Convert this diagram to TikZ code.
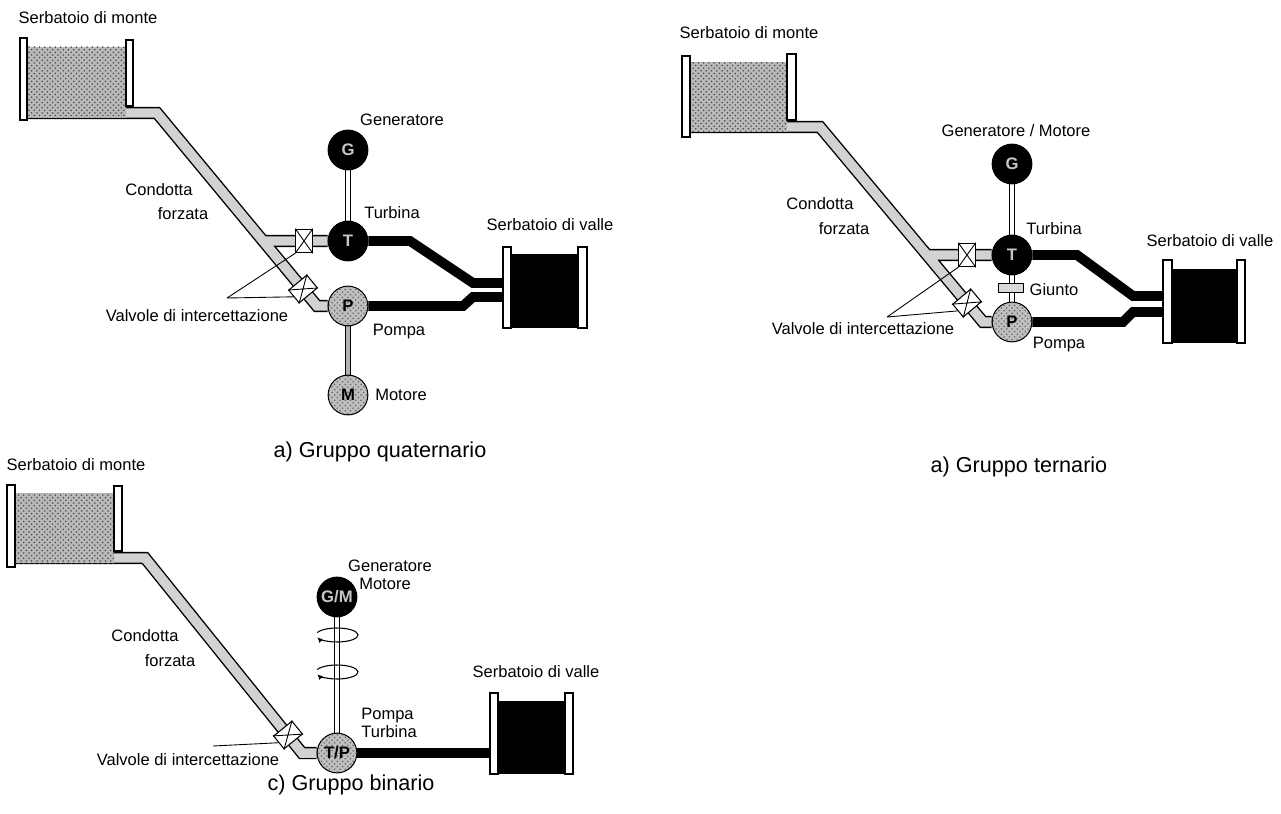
\documentclass[tikz,border=0pt]{standalone}
\usepackage{fontspec}
\setmainfont{Liberation Sans}
\usetikzlibrary{arrows.meta, patterns, backgrounds}

\begin{document}
\begin{tikzpicture}[
    x=0.02cm, y=-0.02cm,
    lbl/.style={font=\fontsize{9.4}{11}\selectfont, inner sep=0pt},
    caption/.style={font=\fontsize{12.3}{14}\selectfont, inner sep=0pt},
    pipe/.style={draw=gray!35, line width=5.4pt,
                 preaction={draw=black, line width=7pt}},
    tail/.style={draw=black, line width=5.6pt},
    shaft/.style={draw=white, line width=2pt,
                  preaction={draw=black, line width=3.4pt}},
    darkshaft/.style={draw=gray!60, line width=2.4pt,
                      preaction={draw=black, line width=3.8pt}},
    wall/.style={draw=black, fill=white, line width=0.6pt},
    upper/.style={fill=gray!55, postaction={pattern=crosshatch dots, pattern color=black!70}},
    lower/.style={fill=black},
    machine/.style={circle, draw=black, line width=0.6pt, minimum size=22.6pt,
                    inner sep=0pt, font=\bfseries\fontsize{9.5}{10}\selectfont},
    dark/.style={machine, fill=black, text=gray!45},
    light/.style={machine, fill=gray!50,
                  postaction={pattern=crosshatch dots, pattern color=black!60}},
    valve/.style={draw=black, fill=white, line width=0.6pt, minimum width=9.4pt,
                  minimum height=13.4pt, inner sep=0pt},
    joint/.style={draw=black, fill=gray!30, line width=0.6pt, minimum width=14.5pt,
                  minimum height=5.6pt, inner sep=0pt},
    leader/.style={draw=black, line width=0.5pt},
    spin/.style={draw=black, line width=0.6pt, -{Latex[length=3pt,width=3pt]}}
]
\useasboundingbox (0,0) rectangle (1281,814);

\node[dark] (genA) at (348,150) {G};
\node[dark] (turbA) at (348,241) {T};
\node[light] (pumpA) at (348,306) {P};
\node[light] (motA) at (348,395) {M};
\node[valve] (vaA) at (304,241) {};
\node[valve, rotate=-50.5] (vbA) at (303,289) {};
\coordinate (monteA) at (27,113);
\coordinate (valleA1) at (511,283);
\coordinate (valleA2) at (511,297);
\coordinate (forkA) at (227,298);

\node[dark] (genB) at (1012,164) {G};
\node[dark] (turbB) at (1012,255) {T};
\node[joint] (giuntoB) at (1011,288) {};
\node[light] (pumpB) at (1012,322) {P};
\node[valve] (vaB) at (967,255) {};
\node[valve, rotate=-50] (vbB) at (967,303) {};
\coordinate (monteB) at (690,127);
\coordinate (valleB1) at (1172,296);
\coordinate (valleB2) at (1172,312);
\coordinate (forkB) at (887,317);

\node[dark] (genC) at (337,597) {G/M};
\node[light] (tpC) at (337,753) {T/P};
\node[valve, rotate=-51] (vbC) at (288,735) {};
\coordinate (monteC) at (15,558);
\coordinate (valleC) at (498,753);
\coordinate (forkC) at (213,746);
\coordinate (rotC1) at (337,635);
\coordinate (rotC2) at (337,672);

\begin{scope}[on background layer]
    \draw[pipe] (monteA) -- (157,113) -- (317,306) -- (pumpA) (263,241) -- (turbA);
    \draw[tail] (turbA) -- (410,241) -- (473,283) -- (valleA1);
    \draw[tail] (pumpA) -- (463,306) -- (473,297) -- (valleA2);
    \draw[shaft] (genA) -- (turbA);
    \draw[darkshaft] (pumpA) -- (motA);

    \draw[pipe] (monteB) -- (820,127) -- (983,322) -- (pumpB) (927,255) -- (turbB);
    \draw[tail] (turbB) -- (1077,255) -- (1133,296) -- (valleB1);
    \draw[tail] (pumpB) -- (1123,322) -- (1133,312) -- (valleB2);
    \draw[shaft] (genB) -- (turbB);
    \draw[shaft] (turbB) -- (pumpB);

    \draw[pipe] (monteC) -- (145,558) -- (302,753) -- (tpC);
    \draw[tail] (tpC) -- (valleC);
    \draw[shaft] (genC) -- (tpC);
\end{scope}

\fill[upper] (27,47) rectangle (126,118);
\draw[wall] (20,38) rectangle (27,120);
\draw[wall] (126,40) rectangle (133,106);
\fill[lower] (511,254) rectangle (578,328);
\draw[wall] (503,247) rectangle (511,328);
\draw[wall] (578,247) rectangle (587,328);

\fill[upper] (690,62) rectangle (787,132);
\draw[wall] (682,56) rectangle (690,137);
\draw[wall] (787,54) rectangle (796,120);
\fill[lower] (1172,269) rectangle (1237,343);
\draw[wall] (1163,260) rectangle (1172,343);
\draw[wall] (1237,260) rectangle (1245,343);

\fill[upper] (15,493) rectangle (114,563);
\draw[wall] (7,485) rectangle (15,567);
\draw[wall] (114,486) rectangle (122,551);
\fill[lower] (498,701) rectangle (565,774);
\draw[wall] (490,693) rectangle (498,774);
\draw[wall] (565,693) rectangle (573,774);

\foreach \v in {vaA,vbA,vaB,vbB,vbC}
    \draw[leader] (\v.north west) -- (\v.south east) (\v.north east) -- (\v.south west);

\draw[leader] (forkA) -- (vaA.south west) (forkA) -- (vbA.south);
\draw[leader] (forkB) -- (vaB.south west) (forkB) -- (vbB.south);
\draw[leader] (forkC) -- (vbC.south);

\draw[spin] (rotC1) ++(200:21 and 7) arc[start angle=200, end angle=520, x radius=21, y radius=7];
\draw[spin] (rotC2) ++(200:21 and 7) arc[start angle=200, end angle=520, x radius=21, y radius=7];

\node[lbl] (lMonteA) at (88,18) {Serbatoio di monte};
\node[lbl] (lGenA) at (402,120) {Generatore};
\node[lbl] (lTurbA) at (392,213) {Turbina};
\node[lbl] (lCondA) at (159,190) {Condotta};
\node[lbl] (lForzA) at (183,214) {forzata};
\node[lbl] (lValleA) at (550,225) {Serbatoio di valle};
\node[lbl] (lValvA) at (197,316) {Valvole di intercettazione};
\node[lbl] (lPumpA) at (399,332) {Pompa};
\node[lbl] (lMotA) at (401,395) {Motore};
\node[caption] (capA) at (380,452) {a) Gruppo quaternario};

\node[lbl] (lMonteB) at (749,33) {Serbatoio di monte};
\node[lbl] (lGenB) at (1016,131) {Generatore / Motore};
\node[lbl] (lTurbB) at (1054,229) {Turbina};
\node[lbl] (lCondB) at (820,204) {Condotta};
\node[lbl] (lForzB) at (844,229) {forzata};
\node[lbl] (lValleB) at (1210,241) {Serbatoio di valle};
\node[lbl] (lGiuntoB) at (1054,290) {Giunto};
\node[lbl] (lValvB) at (863,329) {Valvole di intercettazione};
\node[lbl] (lPumpB) at (1059,345) {Pompa};
\node[caption] (capB) at (1019,467) {a) Gruppo ternario};

\node[lbl] (lMonteC) at (76,465) {Serbatoio di monte};
\node[lbl] (lGenC) at (390,566) {Generatore};
\node[lbl] (lMotC) at (385,584) {Motore};
\node[lbl] (lCondC) at (145,636) {Condotta};
\node[lbl] (lForzC) at (170,661) {forzata};
\node[lbl, anchor=west] (lPumpC) at (361,716) {Pompa};
\node[lbl, anchor=west] (lTurbC) at (361,732) {Turbina};
\node[lbl] (lValleC) at (536,672) {Serbatoio di valle};
\node[lbl] (lValvC) at (188,760) {Valvole di intercettazione};
\node[caption] (capC) at (351,785) {c) Gruppo binario};

\end{tikzpicture}
\end{document}
